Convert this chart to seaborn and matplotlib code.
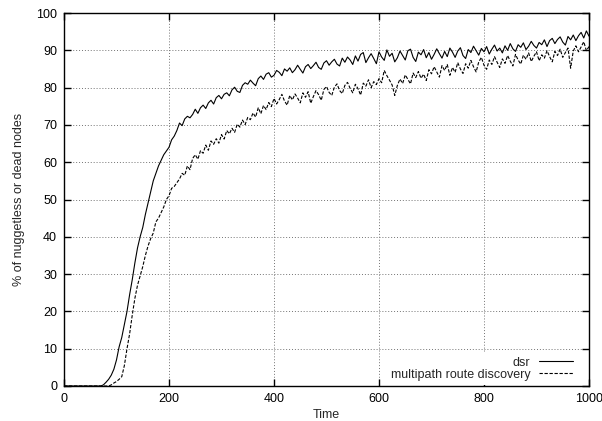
import numpy as np
import pandas as pd
import matplotlib
matplotlib.use("Agg")
import matplotlib.pyplot as plt
import seaborn as sns

time = list(range(0, 1001, 5))

dsr = [0]*15 + [
    0.3, 1.0, 1.8, 2.9, 4.5, 7.0, 10.5, 13.0, 16.5, 20.0,
    24.5, 28.5, 33.0, 37.0, 40.0, 42.5, 46.0, 49.0, 52.0, 55.0,
    57.0, 59.0, 60.5, 62.0, 63.0, 64.0, 66.0, 67.0, 68.5, 70.5,
    69.8, 71.6, 72.3, 71.9, 72.8, 74.2, 73.1, 74.6, 75.3, 74.4,
    75.9, 76.6, 75.6, 77.3, 77.9,
    77.0, 78.2, 78.6, 77.8, 79.4, 80.1, 79.0, 78.7, 80.6, 81.3,
    80.9, 82.0, 81.2, 80.5, 82.4, 83.1, 82.2, 83.6, 84.0, 82.8,
    83.3, 84.6, 84.1, 83.2, 85.0, 84.4, 85.3, 84.0, 84.8, 86.0,
    84.9, 83.9, 85.6, 86.2, 85.1, 85.9, 86.8, 85.4, 84.9, 86.6,
    87.2, 86.0, 86.9, 87.6, 86.3, 85.8, 87.9, 86.8, 88.2, 87.4,
    86.2, 88.5, 87.1, 88.9, 89.4, 86.7, 88.0, 89.1, 87.8, 86.4,
    89.6, 88.2, 87.3, 90.1, 88.4, 89.2, 86.9, 88.0, 89.8, 88.6,
    87.4, 89.9, 90.3, 88.1, 87.0, 89.5, 88.8, 90.2, 88.0, 89.4,
    87.6, 88.9, 90.4, 89.1, 87.9, 89.7, 88.3, 90.6, 89.5, 88.1,
    89.8, 90.7, 88.6, 87.8, 90.2, 89.4, 91.1, 89.9, 88.7, 90.5,
    89.6, 91.0, 89.0, 90.3, 91.4, 89.8, 90.6, 89.3, 91.2, 90.0,
    91.8, 90.4, 89.7, 91.5, 90.8, 92.0, 90.2, 91.1, 92.4, 91.3,
    90.6, 92.1, 91.5, 92.8, 91.0, 92.6, 93.2, 91.8, 92.9, 93.6,
    92.2, 91.4, 93.7, 92.8, 94.1, 92.6, 93.9, 94.8, 93.3, 95.2,
    93.8,
]

multipath = [0]*18 + [
    0.3, 0.8, 1.2, 1.8, 2.5, 5.5, 10.0, 14.0, 19.0, 23.5,
    27.0, 29.5, 32.0, 35.0, 37.5, 39.5, 41.0, 44.0, 45.0, 46.5,
    48.0, 50.0, 51.0, 53.0, 53.5, 54.5, 55.5, 57.0, 56.5, 59.0,
    58.0, 61.0,
    62.0, 60.8, 63.1, 62.4, 64.6, 63.2, 65.7, 64.8, 66.3, 65.1,
    67.4, 66.2, 68.5, 67.6, 69.1, 68.0, 70.2, 69.4, 71.3, 70.1,
    72.0, 71.4, 73.2, 72.1, 74.6, 73.0, 75.2, 74.1, 76.0, 74.9,
    77.1, 75.6, 76.8, 78.2, 76.4, 75.3, 77.9, 76.7, 78.3, 77.2,
    75.9, 78.6, 77.4, 78.9, 75.8, 77.6, 79.2, 78.1, 76.6, 79.5,
    80.3, 78.7, 77.9, 80.1, 81.0, 79.2, 78.4, 80.6, 81.4, 79.8,
    78.6, 80.9, 79.7, 78.0, 81.2, 80.4, 82.1, 80.0, 81.6, 80.8,
    82.4, 81.3, 84.6, 83.2, 82.0, 80.7, 77.9, 80.6, 82.3, 81.1,
    83.4, 82.2, 81.0, 83.9, 82.7, 84.3, 82.5, 83.6, 81.9, 84.8,
    83.7, 85.6, 84.2, 82.8, 85.9, 84.6, 86.2, 83.3, 85.4, 84.1,
    86.7, 85.0, 83.8, 86.4, 85.2, 87.3, 85.6, 84.2, 86.9, 88.1,
    86.0, 84.9, 87.4, 86.2, 88.3, 86.8, 85.4, 87.7, 86.5, 88.6,
    87.1, 85.8, 88.9, 87.4, 86.3, 88.7, 87.6, 89.3, 87.0, 88.4,
    89.6, 87.2, 88.8, 87.9, 89.9, 88.3, 86.9, 89.7, 88.6, 90.3,
    88.1, 89.4, 90.6, 85.2, 89.8, 91.2, 89.6, 90.9, 92.3, 89.9,
    91.0,
]

assert len(dsr) == len(time), len(dsr)
assert len(multipath) == len(time), len(multipath)

x_ticks = [0, 200, 400, 600, 800, 1000]
y_ticks = list(range(0, 101, 10))

sns.set_style("ticks")
plt.rcParams['font.family'] = ['Liberation Sans', 'DejaVu Sans']

fig = plt.figure(figsize=(6.02, 4.21), dpi=100)
ax = fig.add_axes([64/602, 1-386/421, 525/602, 373/421])

sns.lineplot(x=time, y=dsr, ax=ax, color='black', lw=0.8, label='dsr', zorder=3)
sns.lineplot(x=time, y=multipath, ax=ax, color='black', lw=0.8,
             label='multipath route discovery', zorder=3)
ax.lines[1].set_dashes([3, 1.5])

ax.set_xlim(0, 1000)
ax.set_ylim(0, 100)
ax.set_xticks(x_ticks)
ax.set_yticks(y_ticks)
ax.grid(True, color='0.45', linestyle=(0, (1, 2)), linewidth=0.7, zorder=0)
ax.set_axisbelow(True)
ax.tick_params(direction='in', length=5, width=1, top=True, right=True,
               labelsize=9, colors='black', pad=5)
for s in ax.spines.values():
    s.set_linewidth(1)
    s.set_color('black')
ax.set_xlabel('Time', fontsize=9, labelpad=3)
ax.set_ylabel('% of nuggetless or dead nodes', fontsize=9, labelpad=8)

leg = ax.legend(loc='lower right', bbox_to_anchor=(0.9767, 0.004),
                markerfirst=False, frameon=True, fontsize=9,
                handlelength=2.7, handletextpad=0.7, borderaxespad=0.0,
                borderpad=0.3, labelspacing=0.02, fancybox=False)
leg.get_frame().set_edgecolor('none')
leg.get_frame().set_facecolor('white')
leg.get_frame().set_alpha(1)
for t in leg.get_texts():
    t.set_ha('right')
leg._legend_box.align = 'right'

fig.savefig('out.png', dpi=100)
